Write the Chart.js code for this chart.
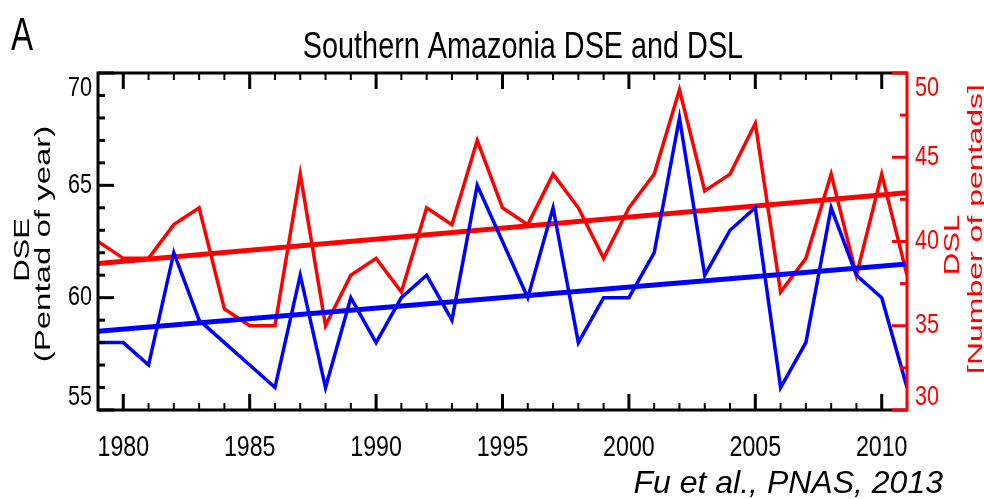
<!DOCTYPE html>
<html>
<head>
<meta charset="utf-8">
<script src="https://cdn.jsdelivr.net/npm/chart.js@4.4.0/dist/chart.umd.min.js"></script>
<style>
  html, body { margin: 0; padding: 0; background: #fff; overflow: hidden; }
  #wrap { width: 984px; height: 499px; }
</style>
</head>
<body>
<div id="wrap"><canvas id="chart" width="984" height="499"></canvas></div>
<script>
// Datos
const years = [1979, 1980, 1981, 1982, 1983, 1984, 1985, 1986, 1987, 1988, 1989,
  1990, 1991, 1992, 1993, 1994, 1995, 1996, 1997, 1998, 1999, 2000,
  2001, 2002, 2003, 2004, 2005, 2006, 2007, 2008, 2009, 2010, 2011];
const dse = [58, 58, 57, 62, 59, 58, 57, 56, 61, 56, 60,
  58, 60, 61, 59, 65, 62.5, 60, 64, 58, 60, 60,
  62, 68, 61, 63, 64, 56, 58, 64, 61, 60, 56];
const dsl = [40, 39, 39, 41, 42, 36, 35, 35, 44, 35, 38,
  39, 37, 42, 41, 46, 42, 41, 44, 42, 39, 42,
  44, 49, 43, 44, 47, 37, 39, 44, 38, 44, 38];
const trendYears = [1979, 2011];
const dseTrend = [58.5, 61.5];
const dslTrend = [38.7, 42.9];
const xTicks = [1980, 1985, 1990, 1995, 2000, 2005, 2010];
const dseTicks = [55, 60, 65, 70];
const dslTicks = [30, 35, 40, 45, 50];

const BLUE = '#0000ff';
const RED = '#ff0000';
const SANS = '"Liberation Sans", Arial, sans-serif';

function pts(xs, ys) {
  return xs.map((x, i) => ({ x: x, y: ys[i] }));
}

// Texto comprimido horizontalmente (la figura original está estrechada)
function drawText(ctx, s, x, y, opts) {
  ctx.save();
  ctx.translate(x, y);
  ctx.scale(opts.sx || 1, 1);
  if (opts.rotate) ctx.rotate(opts.rotate);
  ctx.font = opts.font;
  ctx.fillStyle = opts.color || '#000';
  ctx.textAlign = opts.align || 'left';
  ctx.textBaseline = opts.baseline || 'alphabetic';
  ctx.fillText(s, 0, 0);
  ctx.restore();
}

// Etiquetas de un eje vertical: las de los extremos quedan dentro del marco
function yLabels(ctx, scale, area, x, align, color) {
  scale.ticks.forEach(t => {
    let py = scale.getPixelForValue(t.value);
    let base = 'middle';
    if (t.value === scale.max) { py = area.top + 2; base = 'top'; }
    if (t.value === scale.min) { py = area.bottom + 1; base = 'bottom'; }
    drawText(ctx, String(t.value), x, py, { font: '27px ' + SANS, sx: 0.8, align: align, baseline: base, color: color });
  });
}

// Marco, marcas de escala y textos
const framePlugin = {
  id: 'frame',
  afterDraw(chart) {
    const ctx = chart.ctx;
    const a = chart.chartArea;
    const sx = chart.scales.x, yl = chart.scales.yL, yr = chart.scales.yR;

    ctx.save();
    ctx.lineCap = 'butt';
    ctx.strokeStyle = '#000';
    // marcas del eje x (abajo y arriba)
    for (let yv = 1979; yv <= 2011; yv++) {
      const px = sx.getPixelForValue(yv);
      const len = yv % 5 === 0 ? 16 : 7;
      ctx.lineWidth = yv % 5 === 0 ? 3 : 2;
      ctx.beginPath();
      ctx.moveTo(px, a.bottom); ctx.lineTo(px, a.bottom - len);
      ctx.moveTo(px, a.top); ctx.lineTo(px, a.top + len);
      ctx.stroke();
    }
    // marcas del eje izquierdo
    ctx.lineWidth = 3;
    for (let v = 55; v <= 70; v++) {
      const py = yl.getPixelForValue(v);
      const len = v % 5 === 0 ? 16 : 7;
      ctx.beginPath();
      ctx.moveTo(a.left, py); ctx.lineTo(a.left + len, py);
      ctx.stroke();
    }
    // bordes negros
    ctx.beginPath();
    ctx.moveTo(a.left, a.top); ctx.lineTo(a.right, a.top);
    ctx.moveTo(a.left, a.bottom); ctx.lineTo(a.right, a.bottom);
    ctx.moveTo(a.left, a.top - 1.5); ctx.lineTo(a.left, a.bottom + 1.5);
    ctx.stroke();
    // eje derecho en rojo
    ctx.strokeStyle = RED;
    for (let v = 30; v <= 50; v += 2.5) {
      const py = yr.getPixelForValue(v);
      const len = v % 5 === 0 ? 15 : 7;
      ctx.beginPath();
      ctx.moveTo(a.right, py); ctx.lineTo(a.right - len, py);
      ctx.stroke();
    }
    ctx.beginPath();
    ctx.moveTo(a.right, a.top - 1.5); ctx.lineTo(a.right, a.bottom + 1.5);
    ctx.stroke();
    ctx.restore();

    // etiquetas de los ejes
    sx.ticks.forEach(t => {
      drawText(ctx, String(t.value), sx.getPixelForValue(t.value), 456, { font: '29px ' + SANS, sx: 0.8, align: 'center' });
    });
    yLabels(ctx, yl, a, a.left - 6, 'right', '#000');
    yLabels(ctx, yr, a, a.right + 8, 'left', RED);

    // textos
    drawText(ctx, 'A', 11, 50, { font: '46px ' + SANS, sx: 0.72 });
    drawText(ctx, 'Southern Amazonia DSE and DSL', 523, 58, { font: '36px ' + SANS, sx: 0.8, align: 'center' });
    drawText(ctx, 'DSE', 23, 250, { font: '31px ' + SANS, sx: 0.72, rotate: -Math.PI / 2, align: 'center', baseline: 'middle' });
    drawText(ctx, '(Pentad of year)', 44, 244, { font: '33px ' + SANS, sx: 0.68, rotate: -Math.PI / 2, align: 'center', baseline: 'middle' });
    drawText(ctx, 'DSL', 953, 245, { font: '31px ' + SANS, sx: 0.72, rotate: -Math.PI / 2, align: 'center', baseline: 'middle', color: RED });
    drawText(ctx, '[Number of pentads]', 976, 229, { font: '32px ' + SANS, sx: 0.66, rotate: -Math.PI / 2, align: 'center', baseline: 'middle', color: RED });
    drawText(ctx, 'Fu et al., PNAS, 2013', 943, 493, { font: 'italic 32px ' + SANS, align: 'right' });
  }
};

const ctx = document.getElementById('chart').getContext('2d');
new Chart(ctx, {
  type: 'line',
  data: {
    datasets: [
      { label: 'DSE', data: pts(years, dse), yAxisID: 'yL', borderColor: BLUE, borderWidth: 3.5, pointRadius: 0, tension: 0 },
      { label: 'DSE trend', data: pts(trendYears, dseTrend), yAxisID: 'yL', borderColor: BLUE, borderWidth: 5, pointRadius: 0 },
      { label: 'DSL', data: pts(years, dsl), yAxisID: 'yR', borderColor: RED, borderWidth: 3.5, pointRadius: 0, tension: 0 },
      { label: 'DSL trend', data: pts(trendYears, dslTrend), yAxisID: 'yR', borderColor: RED, borderWidth: 5, pointRadius: 0 }
    ]
  },
  options: {
    responsive: false,
    animation: false,
    devicePixelRatio: 1,
    layout: { padding: { top: 73, left: 0, right: 0, bottom: 0 } },
    plugins: { legend: { display: false }, tooltip: { enabled: false }, title: { display: false } },
    scales: {
      x: {
        type: 'linear', min: 1979, max: 2011,
        afterBuildTicks: s => { s.ticks = xTicks.map(v => ({ value: v })); },
        afterFit: s => { s.height = 89; },
        grid: { display: false, drawTicks: false },
        border: { display: false },
        ticks: { display: false }
      },
      yL: {
        type: 'linear', position: 'left', min: 55, max: 70,
        afterBuildTicks: s => { s.ticks = dseTicks.map(v => ({ value: v })); },
        afterFit: s => { s.width = 98; },
        grid: { display: false, drawTicks: false },
        border: { display: false },
        ticks: { display: false }
      },
      yR: {
        type: 'linear', position: 'right', min: 30, max: 50,
        afterBuildTicks: s => { s.ticks = dslTicks.map(v => ({ value: v })); },
        afterFit: s => { s.width = 77; },
        grid: { display: false, drawTicks: false },
        border: { display: false },
        ticks: { display: false }
      }
    }
  },
  plugins: [framePlugin]
});
</script>
</body>
</html>
